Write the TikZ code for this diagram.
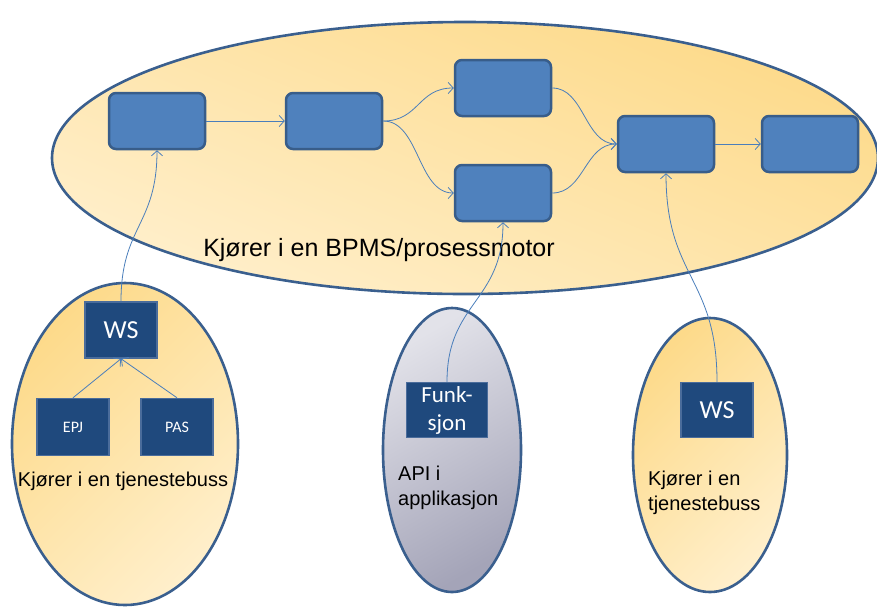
\documentclass[tikz,border=0pt]{standalone}
\usepackage{fontspec}
\setmainfont{Liberation Sans}
\newfontfamily\calibri{Carlito}
\usetikzlibrary{shapes.geometric,arrows.meta}
\definecolor{boxblue}{HTML}{4F81BD}
\definecolor{boxedge}{HTML}{385D8A}
\definecolor{navy}{HTML}{1F497D}
\definecolor{navyedge}{HTML}{4A6C9B}
\definecolor{linkblue}{HTML}{4A7EBB}
\definecolor{ringblue}{HTML}{3A5F8E}
\definecolor{sandA}{HTML}{FDDA8A}
\definecolor{sandB}{HTML}{FFEFCB}
\definecolor{greyA}{HTML}{E2E2E9}
\definecolor{greyB}{HTML}{A4A4B8}
\begin{document}
\begin{tikzpicture}[x=1pt,y=-1pt,
  zone/.style={ellipse, draw=ringblue, line width=2.6pt, inner sep=0pt},
  task/.style={rectangle, rounded corners=7pt, fill=boxblue, draw=boxedge,
    line width=2.5pt, minimum width=96pt, minimum height=56pt},
  svc/.style={rectangle, fill=navy, draw=navyedge, line width=1.5pt,
    text=white, inner sep=0pt, align=center},
  link/.style={draw=linkblue, line width=0.8pt,
    -{Straight Barb[length=5pt,width=11pt]}},
  caption/.style={font=\fontsize{20}{25}\selectfont, align=left, inner sep=0pt}]

\useasboundingbox (0,0) rectangle (877,606);

% container ellipses
\node[zone, minimum width=826pt, minimum height=272pt,
  top color=sandA, bottom color=sandB, shading angle=-22] (engine) at (465,158) {};
\node[zone, minimum width=226pt, minimum height=322pt,
  top color=sandA, bottom color=sandB, shading angle=45] (busL) at (125,444) {};
\node[zone, minimum width=138pt, minimum height=284pt,
  top color=greyA, bottom color=greyB, shading angle=30] (app) at (452,450) {};
\node[zone, minimum width=154pt, minimum height=274pt,
  top color=sandA, bottom color=sandB, shading angle=45] (busR) at (710,455) {};

% captions
\node[caption, font=\fontsize{25}{30}\selectfont] (engcap) at (379,250) {Kjører i en BPMS/prosessmotor};
\node[caption] (buscapL) at (123,481) {Kjører i en tjenestebuss};
\node[caption, anchor=west] (appcap) at (398,488) {API i\\applikasjon};
\node[caption, anchor=west] (buscapR) at (648,493) {Kjører i en\\tjenestebuss};

% process steps
\node[task] (t1) at (157,121) {};
\node[task] (t2) at (334,121) {};
\node[task] (t3) at (503,88) {};
\node[task] (t4) at (503,193) {};
\node[task] (t5) at (666,144) {};
\node[task] (t6) at (810,144) {};

% services
\node[svc, minimum width=72pt, minimum height=56pt,
  font=\calibri\fontsize{26}{30}\selectfont] (ws1) at (121,330) {WS};
\node[svc, minimum width=72pt, minimum height=57pt,
  font=\calibri\fontsize{16}{19}\selectfont] (epj) at (73,427) {EPJ};
\node[svc, minimum width=72pt, minimum height=57pt,
  font=\calibri\fontsize{16}{19}\selectfont] (pas) at (177,427) {PAS};
\node[svc, minimum width=81pt, minimum height=55pt,
  font=\calibri\fontsize{23}{28}\selectfont] (fn) at (447,410) {Funk-\\sjon};
\node[svc, minimum width=72pt, minimum height=55pt,
  font=\calibri\fontsize{26}{30}\selectfont] (ws2) at (717,410) {WS};

% flow between steps
\draw[link] (t1.east) -- (t2.west);
\draw[link] (t2.east) .. controls +(36,0) and +(-36,0) .. (t3.west);
\draw[link] (t2.east) .. controls +(36,0) and +(-36,0) .. (t4.west);
\draw[link] (t3.east) .. controls +(32,0) and +(-32,0) .. (t5.west);
\draw[link] (t4.east) .. controls +(32,0) and +(-32,0) .. (t5.west);
\draw[link] (t5.east) -- (t6.west);

% service calls
\draw[link] (epj.north) -- (ws1.south);
\draw[link] (pas.north) -- (ws1.south);
\draw[link] (ws1.north) .. controls +(0,-75) and +(0,75) .. (t1.south);
\draw[link] (fn.north) .. controls +(0,-80) and +(0,80) .. (t4.south);
\draw[link] (ws2.north) .. controls +(0,-105) and +(0,105) .. (t5.south);
\end{tikzpicture}
\end{document}
